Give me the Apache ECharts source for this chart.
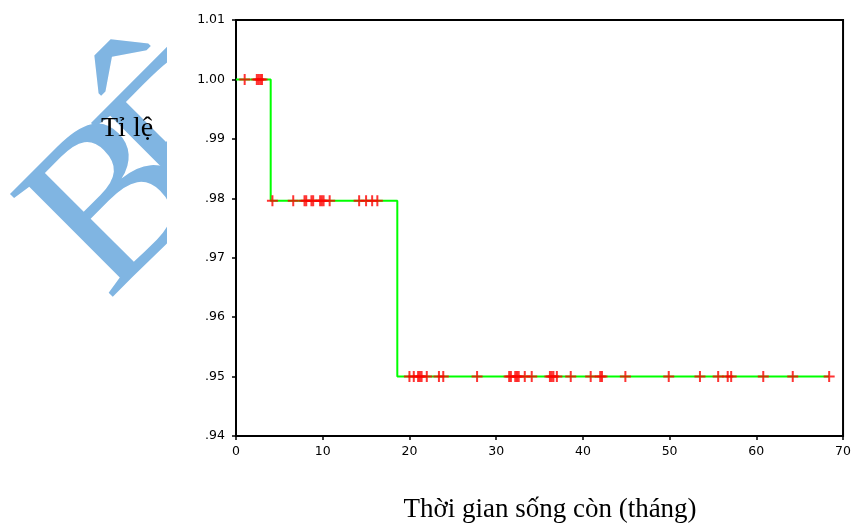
<!DOCTYPE html>
<html>
<head>
<meta charset="utf-8">
<script src="https://cdn.jsdelivr.net/npm/echarts@6/dist/echarts.min.js"></script>
<style>html,body{margin:0;padding:0;background:#fff;}#c{width:854px;height:530px;}</style>
</head>
<body>
<div id="c"></div>
<script>
// Kaplan-Meier steps (time in months, survival proportion)
const stepTimes = [0, 4.0, 18.6, 68.4];
const stepValues = [1.0, 0.9796, 0.9500, 0.9500];
// Censored observations (+ marks), grouped by survival level
const censoredLevel1 = [1.0, 2.4, 2.6, 2.8, 3.0];
const censoredLevel2 = [4.2, 6.6, 7.9, 8.1, 8.7, 8.9, 9.7, 9.9, 10.1, 10.8, 14.2, 15.0, 15.7, 16.3];
const censoredLevel3 = [20.0, 20.5, 21.0, 21.2, 21.4, 22.0, 23.4, 23.9, 27.8, 31.5, 31.7, 32.2, 32.4, 32.6, 33.3, 34.1, 36.2, 36.4, 36.6, 37.0, 38.6, 40.9, 42.0, 42.2, 44.9, 49.9, 53.5, 55.6, 56.7, 57.1, 60.8, 64.2, 68.4];
const levels = [1.0, 0.9796, 0.9500];
const xTitle = 'Thời gian sống còn (tháng)';
const yTitle = 'Tỉ lệ';
const watermarkFirst = 'B';
const watermarkRest = 'ỆNH VIỆN';

const lineData = stepTimes.map((t, i) => [t, stepValues[i]]);
const censData = []
  .concat(censoredLevel1.map(t => [t, levels[0]]))
  .concat(censoredLevel2.map(t => [t, levels[1]]))
  .concat(censoredLevel3.map(t => [t, levels[2]]));

const chart = echarts.init(document.getElementById('c'), null, {renderer: 'canvas'});
const axisFont = {fontFamily: '"DejaVu Sans", Arial, sans-serif', fontSize: 12.5, color: '#000'};
const wmFont = '222px "Liberation Serif", "Times New Roman", serif';
chart.setOption({
  animation: false,
  backgroundColor: '#fff',
  grid: {left: 236, right: 7, top: 20, bottom: 94, show: true, borderColor: '#000', borderWidth: 2, backgroundColor: 'transparent'},
  xAxis: {
    type: 'value', min: 0, max: 70, interval: 10,
    axisLine: {show: true, lineStyle: {color: '#000', width: 2}},
    axisTick: {show: true, length: 4, lineStyle: {color: '#000', width: 1.5}},
    axisLabel: Object.assign({margin: 9}, axisFont),
    splitLine: {show: false}
  },
  yAxis: {
    type: 'value', min: 0.94, max: 1.01, interval: 0.01,
    axisLine: {show: true, lineStyle: {color: '#000', width: 2}},
    axisTick: {show: true, length: 4, lineStyle: {color: '#000', width: 1.5}},
    axisLabel: Object.assign({margin: 11, formatter: v => { const s = v.toFixed(2); return s.charAt(0) === '0' ? s.slice(1) : s; }}, axisFont),
    splitLine: {show: false}
  },
  graphic: [
    {type: 'text', z: -10, x: 67, y: 260, rotation: Math.PI / 4,
      style: {text: watermarkFirst, font: wmFont, fill: '#80b5e2', align: 'left', verticalAlign: 'middle'}},
    {type: 'text', z: -10, x: 148, y: 189, rotation: Math.PI / 4,
      style: {text: watermarkRest, font: wmFont, fill: '#80b5e2', align: 'left', verticalAlign: 'middle'}},
    {type: 'rect', z: -5, shape: {x: 167, y: 0, width: 687, height: 530}, style: {fill: '#fff'}},
    {type: 'text', z: 10, x: 101, y: 129,
      style: {text: yTitle, font: '28px "Liberation Serif", "Times New Roman", serif', fill: '#000', align: 'left', verticalAlign: 'middle'}},
    {type: 'text', z: 10, x: 550, y: 510,
      style: {text: xTitle, font: '27px "Liberation Serif", "Times New Roman", serif', fill: '#000', align: 'center', verticalAlign: 'middle'}}
  ],
  series: [
    {type: 'line', step: 'end', data: lineData, symbol: 'none', lineStyle: {color: '#00ff00', width: 2}, z: 2},
    {type: 'scatter', data: censData, symbol: 'path://M4.5,0h2v11h-2z M0,4.5h11v2h-11z', symbolSize: [11, 11],
      itemStyle: {color: '#ff0000'}, z: 3}
  ]
});
</script>
</body>
</html>
